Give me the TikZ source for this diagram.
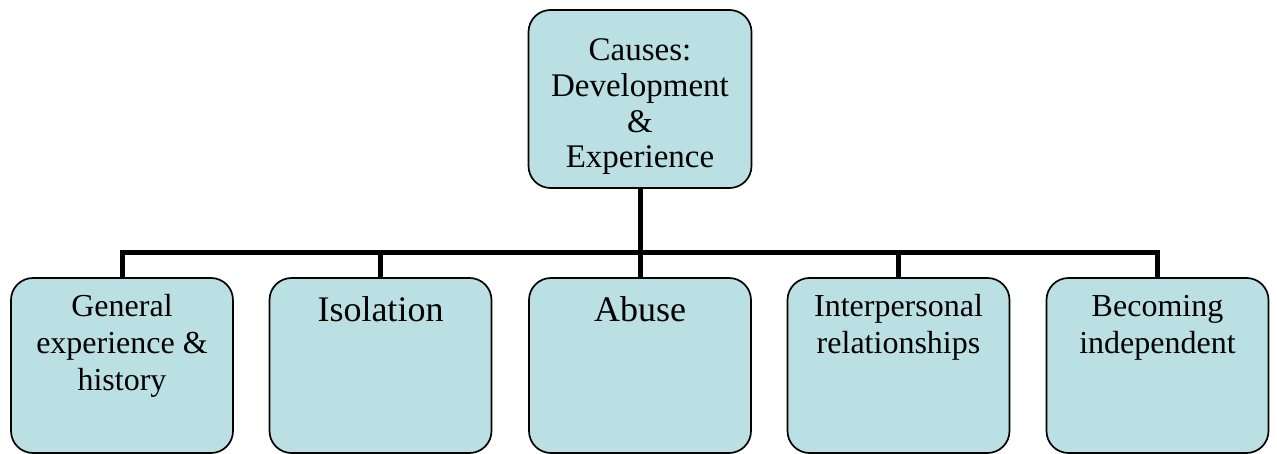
\documentclass[tikz,border=0pt]{standalone}
\usepackage{fontspec}
\setmainfont{Liberation Serif}
\definecolor{boxfill}{RGB}{187,224,227}
\begin{document}
\begin{tikzpicture}[x=1pt,y=-1pt,
  box/.style={draw=black, line width=1.7pt, fill=boxfill, rounded corners=22pt,
    inner sep=0pt, minimum width=222pt, minimum height=175pt},
  topbox/.style={box, minimum width=223pt, minimum height=178pt},
  conn/.style={draw=black, line width=5pt, line join=miter},
  lbl/.style={anchor=base, align=center, inner sep=0pt, text=black},
  big/.style={font=\fontsize{36}{40}\selectfont},
  small/.style={font=\fontsize{32}{37}\selectfont}
]
\useasboundingbox (0,0) rectangle (1277,454);

% boxes
\node[topbox] (top) at (640,99) {};
\node[box] (b1) at (122,365.5) {};
\node[box] (b2) at (380.5,365.5) {};
\node[box] (b3) at (640,365.5) {};
\node[box] (b4) at (898.5,365.5) {};
\node[box] (b5) at (1157.5,365.5) {};

% connectors
\coordinate (bus) at (640,253);
\draw[conn] (top.south) -- (bus);
\foreach \b in {b1,b2,b3,b4,b5}
  \draw[conn] (bus) -| (\b.north);

% labels (anchored at the baseline of the last line)
\node[lbl, font=\fontsize{33}{35.7}\selectfont] (ttop) at (640,168)
  {Causes:\\Development\\\&\\Experience};
\node[lbl, small] (t1) at (122,390) {General\\experience \&\\history};
\node[lbl, big] (t2) at (380.5,321) {Isolation};
\node[lbl, big] (t3) at (640,322) {Abuse};
\node[lbl, small] (t4) at (898.5,353) {Interpersonal\\relationships};
\node[lbl, small] (t5) at (1157.5,353) {Becoming\\independent};
\end{tikzpicture}
\end{document}
